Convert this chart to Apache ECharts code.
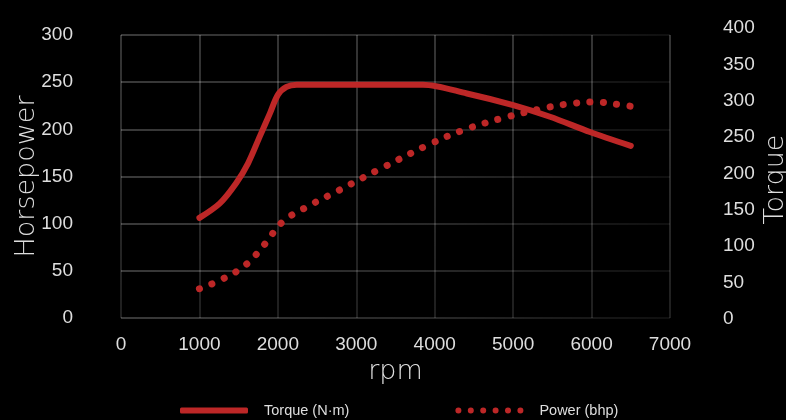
<!DOCTYPE html>
<html>
<head>
<meta charset="utf-8">
<script src="https://cdn.jsdelivr.net/npm/echarts@6/dist/echarts.min.js"></script>
<style>
html,body{margin:0;padding:0;background:#000;}
#c{width:786px;height:420px;}
</style>
</head>
<body>
<div id="c"></div>
<script>
const rpmTicks = [0, 1000, 2000, 3000, 4000, 5000, 6000, 7000];
const hpTicks = [0, 50, 100, 150, 200, 250, 300];
const torqueTicks = [0, 50, 100, 150, 200, 250, 300, 350, 400];

const torqueRpm = [1000, 1260, 1470, 1620, 1770, 1900, 2000, 2110, 2240, 3850, 4410, 5000, 5470, 5980, 6500];
const torqueNm  = [139, 159, 187, 214, 251, 283, 308, 319, 322, 322, 310, 294, 278, 257, 238];

const powerRpm = [1000, 1300, 1600, 1830, 2060, 2330, 2770, 3350, 3930, 4360, 4870, 5370, 5710, 6040, 6370, 6540];
const powerHp  = [31, 41.5, 57, 78, 102, 116, 135, 160, 184, 199, 212, 222, 227, 229, 226, 224];

const seriesNames = ['Torque (N·m)', 'Power (bhp)'];
const axisNames = ['rpm', 'Horsepower', 'Torque'];

const RED = '#bd2727';
const LBL = '#dedede';

// legend icon for the dotted series: six round dots
function dotsPath(n, r, step) {
  let d = 'path://';
  for (let i = 0; i < n; i++) {
    const cx = r + i * step;
    d += 'M' + (cx - r) + ' ' + r + 'A' + r + ' ' + r + ' 0 1 0 ' + (cx + r) + ' ' + r +
         'A' + r + ' ' + r + ' 0 1 0 ' + (cx - r) + ' ' + r + 'Z';
  }
  return d;
}

const chart = echarts.init(document.getElementById('c'));
const numFont = {color: LBL, fontFamily: 'Liberation Sans, Arial, sans-serif', fontSize: 19};
const nameFont = {color: LBL, fontFamily: 'DejaVu Sans, sans-serif', fontSize: 27, fontWeight: 200};
const plain = v => String(v);

chart.setOption({
  backgroundColor: '#000',
  animation: false,
  grid: [
    {left: 121, right: 116, top: 35, bottom: 102, outerBoundsMode: 'none', containLabel: false},
    {left: 121, right: 116, top: 28, bottom: 101, outerBoundsMode: 'none', containLabel: false}
  ],
  legend: {
    left: 180, top: 403, padding: 0,
    itemWidth: 68, itemHeight: 6, itemGap: 106,
    data: [
      {name: seriesNames[0], icon: 'roundRect'},
      {name: seriesNames[1], icon: dotsPath(6, 3, 12.4)}
    ],
    itemStyle: {color: RED},
    textStyle: {color: LBL, fontFamily: 'Liberation Sans, Arial, sans-serif', fontSize: 14.5, padding: [0, 0, 0, 11]}
  },
  xAxis: [
    {
      type: 'value', gridIndex: 0, min: rpmTicks[0], max: rpmTicks[rpmTicks.length - 1], interval: 1000,
      name: axisNames[0], nameLocation: 'middle', nameGap: 40, nameTextStyle: nameFont,
      axisLine: {show: false}, axisTick: {show: false},
      axisLabel: Object.assign({margin: 17, formatter: plain}, numFont),
      splitLine: {show: true, lineStyle: {width: 1.5, color: {type: 'linear', x: 0, y: 0, x2: 0, y2: 1,
        colorStops: [{offset: 0, color: 'rgba(255,255,255,0.28)'}, {offset: 1, color: 'rgba(255,255,255,0.16)'}]}}}
    },
    {
      type: 'value', gridIndex: 1, min: rpmTicks[0], max: rpmTicks[rpmTicks.length - 1], interval: 1000, show: false,
      splitLine: {show: false}
    }
  ],
  yAxis: [
    {
      type: 'value', gridIndex: 0, position: 'left', min: hpTicks[0], max: hpTicks[hpTicks.length - 1], interval: 50,
      name: axisNames[1], nameLocation: 'middle', nameGap: 81, nameRotate: 90, nameMoveOverlap: false, nameTextStyle: nameFont,
      axisLine: {show: false}, axisTick: {show: false},
      axisLabel: Object.assign({margin: 48, formatter: plain}, numFont),
      splitLine: {show: true, lineStyle: {width: 1.5, color: {type: 'linear', x: 0, y: 0, x2: 1, y2: 0,
        colorStops: [{offset: 0, color: 'rgba(255,255,255,0.30)'}, {offset: 0.6, color: 'rgba(255,255,255,0.2)'}, {offset: 1, color: 'rgba(255,255,255,0.08)'}]}}}
    },
    {
      type: 'value', gridIndex: 1, position: 'right', min: torqueTicks[0], max: torqueTicks[torqueTicks.length - 1], interval: 50,
      name: axisNames[2], nameLocation: 'middle', nameGap: 92, nameRotate: 90, nameMoveOverlap: false,
      nameTextStyle: Object.assign({padding: [0, 12, 0, 0]}, nameFont),
      axisLine: {show: false}, axisTick: {show: false},
      axisLabel: Object.assign({margin: 53, formatter: plain}, numFont),
      splitLine: {show: false}
    }
  ],
  series: [
    {
      name: seriesNames[0], type: 'line', xAxisIndex: 1, yAxisIndex: 1,
      data: torqueRpm.map((r, i) => [r, torqueNm[i]]),
      smooth: 0.3, symbol: 'none', color: RED,
      lineStyle: {width: 6, color: RED, cap: 'round', join: 'round'},
      z: 3
    },
    {
      name: seriesNames[1], type: 'line', xAxisIndex: 0, yAxisIndex: 0,
      data: powerRpm.map((r, i) => [r, powerHp[i]]),
      smooth: 0.4, symbol: 'none', color: RED,
      lineStyle: {width: 7, color: RED, type: [0.1, 13.3], cap: 'round'},
      z: 2
    }
  ]
});
</script>
</body>
</html>
